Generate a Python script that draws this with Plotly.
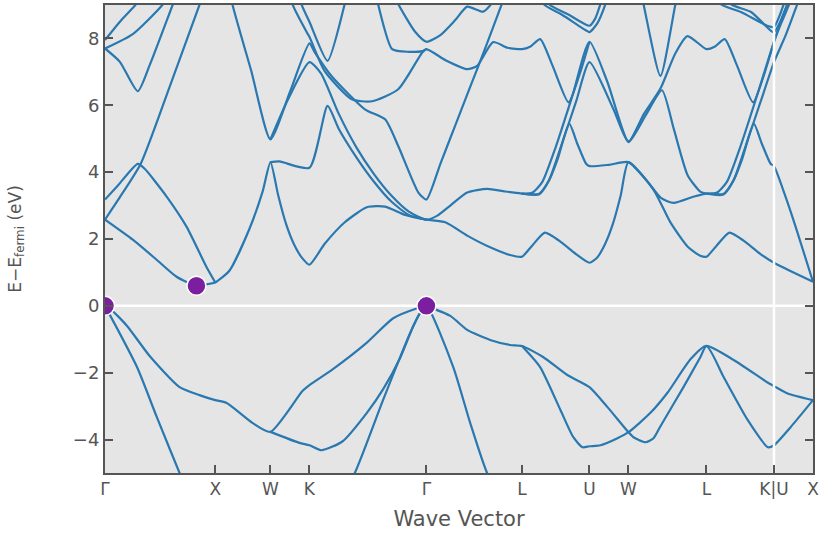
import numpy as np
import plotly.graph_objects as go

# ---- k-path (FCC) ----
labels = ["Γ", "X", "W", "K", "Γ", "L", "U", "W", "L", "K|U", "X"]
seg_len = [1.0, 0.5, np.sqrt(2) / 4, 3 * np.sqrt(2) / 4, np.sqrt(3) / 2,
           np.sqrt(6) / 4, np.sqrt(2) / 4, np.sqrt(2) / 2, np.sqrt(6) / 4, np.sqrt(2) / 4]
kdist = np.concatenate([[0.0], np.cumsum(seg_len)])

# band samples: t = index of high-symmetry point + fraction along the segment, E in eV
vb2_t = [0, 0.29, 0.47, 0.676, 1, 2, 3, 3.388, 3.629, 3.862, 3.948, 4, 4.281, 4.458, 4.635, 5, 6, 7, 8, 9, 10]
vb2_E = [0, -1.83, -3.33, -5.0, -7.6, -8.0, -7.6, -5.0, -2.82, -0.8, -0.2, 0, -1.83, -3.5, -5.0, -7.0, -7.3, -8.0, -7.0, -7.3, -7.8]

vb3_t = [0, 0.045, 0.2, 0.405, 0.676, 0.856, 1.0, 1.2, 1.673, 2.0, 2.82, 3.0, 3.198, 3.491, 3.716, 3.922, 4.0]
vb3_E = [0, -0.08, -0.6, -1.5, -2.43, -2.67, -2.82, -2.9, -3.5, -3.77, -2.55, -2.37, -1.9, -1.1, -0.37, -0.07, 0]

vb4_t = [2.0, 2.744, 3.0, 3.103, 3.284, 3.491, 3.629, 3.776, 3.888, 3.957, 4.0]
vb4_E = [-3.77, -4.1, -4.17, -4.32, -4.05, -3.2, -2.5, -1.55, -0.6, -0.15, 0]

vbA_t = [4, 4.25, 4.427, 4.667, 4.875, 5, 5.313, 5.672, 6, 6.462, 7, 7.064, 7.218, 7.321, 7.41, 7.705, 7.923, 8,
         8.403, 8.910, 9, 9.35, 10]
vbA_E = [0, -0.3, -0.72, -1.02, -1.17, -1.2, -1.53, -2.07, -2.43, -3.03, -3.78, -3.93, -4.08, -3.96, -3.6, -2.43, -1.53,
         -1.2, -1.62, -2.3, -2.4, -2.62, -2.82]

vbB_t = [5, 5.269, 5.567, 5.761, 5.896, 6, 6.282, 6.718, 7, 7.282, 7.5, 7.795, 8, 8.254, 8.612, 8.910, 9, 9.425, 10]
vbB_E = [-1.2, -1.83, -3.1, -3.93, -4.23, -4.2, -4.17, -3.96, -3.78, -3.2, -2.6, -1.6, -1.2, -2.13, -3.42, -4.23, -4.17,
         -3.63, -2.82]

cb1_t = [0, 0.252, 0.468, 0.649, 0.829, 0.946, 1.0, 1.255, 1.618, 1.855, 2.0, 2.2, 2.4, 2.6, 2.8, 3.0, 3.129, 3.302,
         3.491, 3.647, 3.819, 4.0, 4.198, 4.427, 4.667, 4.875, 5.0, 5.15, 5.34, 5.55, 5.8, 6.0, 6.2, 6.4, 6.6, 6.8, 7.0,
         7.32, 7.54, 7.76, 7.92, 8.0, 8.15, 8.34, 8.55, 8.8, 9.0, 9.5, 10]
cb1_E = [2.58, 1.98, 1.38, 0.87, 0.6, 0.66, 0.7, 1.05, 2.3, 3.4, 4.3, 3.3, 2.45, 1.85, 1.45, 1.23, 1.85, 2.5, 2.95,
         2.97, 2.72, 2.58, 2.5, 2.1, 1.75, 1.52, 1.47, 1.8, 2.19, 1.95, 1.55, 1.29, 1.45, 1.85, 2.45, 3.3, 4.3, 3.48,
         2.49, 1.77, 1.5, 1.47, 1.8, 2.19, 1.95, 1.55, 1.29, 1.0, 0.72]

cbQ_t = [0, 0.117, 0.297, 0.36, 0.559, 0.739, 0.919, 1.0]
cbQ_E = [3.18, 3.6, 4.25, 4.1, 3.27, 2.37, 1.17, 0.7]

cbP_t = [0, 0.135, 0.324, 0.586, 0.856, 0.95]
cbP_E = [2.58, 3.25, 4.25, 6.55, 9.0, 9.8]

top1_t = [0, 0.135, 0.288, 0.35]
top1_E = [7.95, 8.5, 9.05, 9.4]
top2_t = [0, 0.252, 0.52, 0.6]
top2_E = [7.7, 8.13, 9.0, 9.4]
top3_t = [0, 0.135, 0.297, 0.405, 0.613, 0.66]
top3_E = [7.7, 7.3, 6.42, 7.2, 9.0, 9.4]

c13_t = [1.25, 1.309, 1.65, 2.0, 2.5, 3.0, 3.043, 3.19, 3.474, 3.647, 3.759, 3.931, 4.0, 4.146, 4.302, 4.458, 4.615,
         4.792, 4.85]
c13_E = [9.6, 9.03, 7.04, 4.98, 6.4, 7.85, 7.6, 6.87, 5.88, 5.58, 4.78, 3.39, 3.18, 4.25, 5.4, 6.55, 7.7, 9.05, 9.5]

c14_t = [2.0, 2.44, 3.0, 3.1, 3.25, 3.4, 3.55, 3.7, 3.85, 4.0, 4.115, 4.25, 4.427, 4.635, 4.823, 5.0, 5.25, 5.4, 5.6,
         5.8, 6.0, 6.615, 7.0, 7.22, 7.43, 7.58, 7.76, 7.92, 8.0, 8.25, 8.4, 8.6, 8.8, 9.0, 9.3, 9.6, 9.8]
c14_E = [4.98, 6.15, 7.29, 6.95, 5.75, 4.75, 3.95, 3.3, 2.82, 2.58, 2.7, 3.0, 3.39, 3.5, 3.42, 3.36, 3.33, 3.75, 4.9,
         6.1, 7.29, 5.88, 4.9, 5.7, 6.45, 5.3, 3.9, 3.42, 3.36, 3.33, 3.75, 4.9, 6.1, 7.29, 8.1, 9.03, 9.6]

c15_t = [2.0, 2.231, 3.0, 3.155, 3.25, 3.4, 3.55, 3.7, 3.85, 4.0]
c15_E = [4.3, 4.32, 4.13, 5.98, 5.3, 4.45, 3.72, 3.12, 2.72, 2.58]

c16_t = [5, 5.25, 5.4, 5.53, 5.7, 5.82, 5.95, 6.0, 6.5, 7.0, 7.25, 7.42, 7.58, 7.84, 8.0, 8.25, 8.4, 8.53, 8.7, 8.82,
         8.95, 9.0, 9.3, 9.6, 10]
c16_E = [3.36, 3.35, 3.75, 4.4, 5.45, 4.85, 4.25, 4.18, 4.22, 4.3, 3.7, 3.22, 3.08, 3.27, 3.36, 3.35, 3.75, 4.4, 5.45,
         4.85, 4.25, 4.18, 3.25, 2.2, 0.72]

c17_t = [5, 5.15, 5.3, 5.5, 5.75, 6.0, 6.462, 7.0, 7.2, 7.41, 7.6, 7.756, 8.0, 8.12, 8.27, 8.45, 8.69, 8.85, 9.0, 9.2,
         9.35, 9.45]
c17_E = [3.36, 3.38, 3.7, 4.75, 6.3, 7.9, 6.69, 4.92, 5.75, 6.5, 7.55, 8.07, 7.68, 7.75, 7.98, 7.2, 6.09, 6.9, 7.9, 8.6,
         9.05, 9.4]

c18_t = [2.5, 2.564, 2.949, 3.0, 3.129, 3.362, 3.534, 3.759, 3.966, 4.0, 4.2, 4.427, 4.531, 4.698, 4.85, 5.0, 5.12,
         5.27, 5.45, 5.69, 5.85, 6.0]
c18_E = [9.5, 9.03, 8.15, 8.05, 7.03, 6.18, 6.12, 6.48, 7.59, 7.68, 7.35, 7.08, 7.18, 7.89, 7.72, 7.68, 7.75, 7.98,
         7.2, 6.09, 6.9, 7.9]

c19_t = [3.7, 3.759, 3.905, 4.0, 4.146, 4.302, 4.427, 4.594, 4.698, 4.75]
c19_E = [9.5, 9.03, 8.19, 7.9, 8.1, 8.55, 8.95, 8.8, 9.1, 9.4]

c20_t = [3.55, 3.586, 3.707, 3.85, 3.966, 4.0]
c20_E = [9.5, 9.03, 7.68, 7.6, 7.62, 7.68]

c22_t = [2.75, 2.795, 3.0, 3.155, 3.302, 3.34]
c22_E = [9.5, 9.03, 8.5, 7.33, 9.03, 9.5]

c24_t = [8, 8.15, 8.3, 8.5, 8.75, 9.0, 9.2, 9.4, 9.5]
c24_E = [3.36, 3.38, 3.7, 4.75, 6.3, 7.9, 8.5, 9.05, 9.4]

top5_t = [5.28, 5.32, 5.6, 5.9, 6.0, 6.2, 6.41, 6.5]
top5_E = [9.4, 9.03, 8.7, 8.3, 8.19, 8.45, 9.03, 9.4]
top6_t = [5.36, 5.4, 5.7, 6.0, 6.15, 6.3, 6.38]
top6_E = [9.4, 9.03, 8.7, 8.38, 8.6, 9.1, 9.4]
top7_t = [8.17, 8.21, 8.51, 8.91, 9.0, 9.15, 9.3]
top7_E = [9.4, 9.03, 8.79, 8.37, 8.34, 8.7, 9.2]
top8_t = [8.32, 8.36, 8.66, 8.96, 9.0, 9.2, 9.35, 9.45]
top8_E = [9.4, 9.03, 8.79, 8.22, 8.19, 8.6, 9.05, 9.4]
vwl_t = [7.15, 7.192, 7.41, 7.603, 7.65]
vwl_E = [9.4, 9.03, 6.88, 9.03, 9.4]

bands = [
    (vb2_t, vb2_E), (vb3_t, vb3_E), (vb4_t, vb4_E), (vbA_t, vbA_E), (vbB_t, vbB_E),
    (cb1_t, cb1_E), (cbQ_t, cbQ_E), (cbP_t, cbP_E),
    (top1_t, top1_E), (top2_t, top2_E), (top3_t, top3_E),
    (c13_t, c13_E), (c14_t, c14_E), (c15_t, c15_E), (c16_t, c16_E), (c17_t, c17_E),
    (c18_t, c18_E), (c19_t, c19_E), (c20_t, c20_E), (c22_t, c22_E), (c24_t, c24_E),
    (top5_t, top5_E), (top6_t, top6_E), (top7_t, top7_E), (top8_t, top8_E), (vwl_t, vwl_E),
]

# band extrema markers (VBM at Γ, CBM along Γ-X)
ext_t = [0.0, 0.829, 4.0]
ext_E = [0.0, 0.6, 0.0]

e_range = [-5, 9]
e_ticks = [-4, -2, 0, 2, 4, 6, 8]

band_color = "#2a78b0"
idx = np.arange(len(kdist))


def to_k(t):
    return np.interp(t, idx, kdist)


fig = go.Figure()
for t, e in bands:
    fig.add_trace(go.Scatter(x=to_k(t), y=e, mode="lines",
                             line=dict(color=band_color, width=2.2, shape="spline", smoothing=0.6),
                             hoverinfo="skip", showlegend=False))

# Fermi level and K|U separator
fig.add_trace(go.Scatter(x=[kdist[0], kdist[-1]], y=[0, 0], mode="lines",
                         line=dict(color="white", width=2.5), hoverinfo="skip", showlegend=False))
fig.add_trace(go.Scatter(x=[kdist[9], kdist[9]], y=e_range, mode="lines",
                         line=dict(color="white", width=2.5), hoverinfo="skip", showlegend=False))

fig.add_trace(go.Scatter(x=to_k(ext_t), y=ext_E, mode="markers",
                         marker=dict(size=19, color="#7b1fa0", line=dict(color="white", width=1.5)),
                         hoverinfo="skip", showlegend=False))

axis_col = "#555555"
fig.update_layout(
    width=824, height=535,
    margin=dict(l=105, r=11, t=5, b=62, autoexpand=False),
    plot_bgcolor="#e5e5e5", paper_bgcolor="white",
    font=dict(family="DejaVu Sans", color="#555555", size=17),
    showlegend=False,
)
fig.update_xaxes(range=[kdist[0], kdist[-1]], tickvals=kdist, ticktext=labels,
                 ticks="inside", ticklen=8, tickwidth=2, tickcolor=axis_col,
                 showline=True, linecolor=axis_col, linewidth=2, mirror=True,
                 showgrid=False, zeroline=False, automargin=False,
                 tickfont=dict(size=17),
                 title=dict(text="Wave Vector", font=dict(size=21), standoff=13))
fig.update_yaxes(range=e_range, tickvals=e_ticks,
                 ticks="inside", ticklen=8, tickwidth=2, tickcolor=axis_col,
                 showline=True, linecolor=axis_col, linewidth=2, mirror="ticks",
                 showgrid=False, zeroline=False, automargin=False,
                 tickfont=dict(size=18),
                 title=dict(text="E−E<sub>fermi</sub> (eV)", font=dict(size=17), standoff=47))

fig.write_html("out.html", config={"displayModeBar": False},
               post_script="document.body.style.margin='0';")
